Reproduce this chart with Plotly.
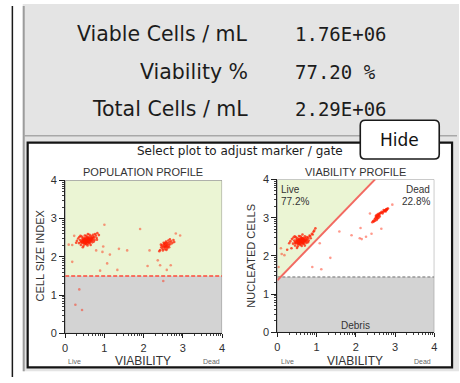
import math
import plotly.graph_objects as go

W, H = 460, 383

# ---- summary values ----
stat_labels = ["Viable Cells / mL", "Viability %", "Total Cells / mL"]
stat_values = ["1.76E+06", "77.20 %", "2.29E+06"]

live_pct = "77.2%"
dead_pct = "22.8%"

axis_ticks = [0, 1, 2, 3, 4]
axis_ticktext = ["0", "1", "2", "3", "4"]

# gates
size_gate = 1.5            # cell size index threshold (population profile)
debris_gate = 1.45         # nucleated cells threshold (viability profile)
live_line_start = [0.0, 1.36]
live_line_end = [2.49, 4.0]

# ---- population profile events (viability, cell size index) ----
pop_live_x = [0.45, 0.48, 0.50, 0.52, 0.55, 0.57, 0.53, 0.60, 0.62, 0.58, 0.64, 0.66, 0.49, 0.46, 0.43,
              0.51, 0.56, 0.61, 0.68, 0.70, 0.59, 0.54, 0.47, 0.41, 0.44, 0.63, 0.67, 0.72, 0.65, 0.58,
              0.52, 0.50, 0.56, 0.60, 0.48, 0.62, 0.55, 0.53, 0.57, 0.59, 0.66, 0.44, 0.40, 0.38, 0.70,
              0.74, 0.63, 0.51, 0.46, 0.54, 0.35, 0.33, 0.36, 0.40, 0.47, 0.57, 0.69, 0.75, 0.78, 0.76,
              0.71, 0.62, 0.50, 0.42, 0.30, 0.80, 0.82, 0.86, 0.45, 0.65, 0.73, 0.39, 0.58, 0.81, 0.28,
              0.54, 0.57, 0.61, 0.49, 0.52, 0.64, 0.59, 0.55, 0.47, 0.68]
pop_live_y = [2.40, 2.42, 2.38, 2.44, 2.41, 2.46, 2.36, 2.43, 2.48, 2.39, 2.45, 2.50, 2.46, 2.44, 2.37,
              2.49, 2.52, 2.51, 2.47, 2.53, 2.35, 2.33, 2.35, 2.41, 2.47, 2.40, 2.42, 2.49, 2.55, 2.50,
              2.40, 2.45, 2.44, 2.38, 2.37, 2.45, 2.48, 2.43, 2.40, 2.47, 2.44, 2.43, 2.38, 2.44, 2.45,
              2.52, 2.36, 2.34, 2.50, 2.55, 2.36, 2.48, 2.52, 2.31, 2.29, 2.30, 2.38, 2.44, 2.56, 2.60,
              2.58, 2.58, 2.56, 2.53, 2.42, 2.50, 2.62, 2.57, 2.25, 2.31, 2.40, 2.55, 2.60, 2.45, 2.37,
              2.39, 2.43, 2.46, 2.41, 2.47, 2.42, 2.44, 2.38, 2.40, 2.50]

pop_dead_x = [2.50, 2.53, 2.56, 2.58, 2.60, 2.62, 2.55, 2.52, 2.59, 2.64, 2.66, 2.48, 2.45, 2.54, 2.61,
              2.57, 2.68, 2.70, 2.51, 2.47, 2.63, 2.42, 2.58, 2.73, 2.76, 2.67, 2.44, 2.56, 2.60, 2.53,
              2.78, 2.40, 2.49, 2.65, 2.55]
pop_dead_y = [2.27, 2.30, 2.33, 2.28, 2.31, 2.35, 2.25, 2.34, 2.37, 2.30, 2.38, 2.22, 2.25, 2.20, 2.26,
              2.40, 2.33, 2.41, 2.37, 2.30, 2.43, 2.18, 2.18, 2.36, 2.44, 2.46, 2.32, 2.28, 2.22, 2.26,
              2.39, 2.15, 2.17, 2.25, 2.36]

pop_other_x = [1.00, 1.91, 0.23, 0.79, 0.95, 1.14, 1.37, 1.58, 1.07, 0.18, 0.89, 1.33, 2.10, 2.15, 2.36,
               2.59, 2.69, 2.93, 2.82, 2.50, 0.36, 0.26, 0.43, 0.18, 0.09, 0.97, 2.42]
pop_other_y = [2.84, 2.73, 2.55, 2.17, 2.13, 2.06, 2.21, 2.17, 1.83, 1.87, 1.64, 1.66, 1.76, 2.17, 1.91,
               1.66, 1.78, 2.56, 2.61, 1.37, 1.15, 0.75, 0.61, 2.31, 2.32, 2.27, 1.78]

# ---- viability profile events (viability, nucleated cells) ----
via_live_x = [0.50, 0.53, 0.55, 0.57, 0.60, 0.62, 0.58, 0.65, 0.67, 0.63, 0.69, 0.71, 0.54, 0.51, 0.48,
              0.56, 0.61, 0.66, 0.73, 0.75, 0.64, 0.59, 0.52, 0.46, 0.49, 0.68, 0.72, 0.77, 0.70, 0.63,
              0.57, 0.55, 0.61, 0.65, 0.53, 0.67, 0.60, 0.58, 0.62, 0.64, 0.71, 0.49, 0.45, 0.43, 0.75,
              0.79, 0.68, 0.56, 0.51, 0.59, 0.40, 0.37, 0.41, 0.45, 0.52, 0.62, 0.74, 0.80, 0.84, 0.88,
              0.92, 0.97, 0.55, 0.47, 0.33, 0.85, 0.90, 0.94, 0.50, 0.70, 0.78, 0.44, 0.64, 0.82, 0.30,
              0.25, 0.36, 0.59, 0.62, 0.66, 0.54, 0.57, 0.69, 0.64, 0.60]
via_live_y = [2.36, 2.38, 2.34, 2.40, 2.37, 2.42, 2.32, 2.39, 2.44, 2.35, 2.41, 2.46, 2.42, 2.40, 2.33,
              2.45, 2.48, 2.47, 2.43, 2.49, 2.31, 2.29, 2.31, 2.37, 2.43, 2.36, 2.38, 2.45, 2.51, 2.46,
              2.36, 2.41, 2.40, 2.34, 2.33, 2.41, 2.44, 2.39, 2.36, 2.43, 2.40, 2.39, 2.34, 2.40, 2.41,
              2.48, 2.32, 2.30, 2.46, 2.51, 2.32, 2.44, 2.48, 2.27, 2.25, 2.26, 2.34, 2.40, 2.52, 2.58,
              2.63, 2.72, 2.52, 2.49, 2.38, 2.46, 2.56, 2.66, 2.21, 2.27, 2.36, 2.51, 2.56, 2.53, 2.33,
              2.16, 2.20, 2.38, 2.40, 2.42, 2.37, 2.43, 2.39, 2.45, 2.35]

via_dead_x = [2.50, 2.52, 2.54, 2.55, 2.57, 2.53, 2.56, 2.59, 2.51, 2.48, 2.58, 2.60, 2.62, 2.49, 2.46,
              2.64, 2.66, 2.69, 2.72, 2.75, 2.77, 2.79, 2.80, 2.76, 2.74, 2.78, 2.82, 2.44, 2.42, 2.55,
              2.61, 2.68, 2.71, 2.53, 2.58]
via_dead_y = [2.98, 3.01, 3.03, 2.97, 3.05, 2.94, 3.08, 3.06, 3.04, 2.96, 3.10, 3.09, 3.12, 2.92, 2.90,
              3.13, 3.15, 3.14, 3.17, 3.19, 3.21, 3.20, 3.23, 3.16, 3.18, 3.22, 3.24, 2.91, 2.88, 3.00,
              3.03, 3.11, 3.20, 3.07, 3.00]

via_other_x = [2.36, 1.58, 1.89, 2.12, 2.15, 2.26, 2.65, 1.08, 1.35, 0.89, 1.12, 0.18, 0.03, 0.09, 0.11,
               2.40, 2.93, 2.10]
via_other_y = [3.11, 2.64, 2.54, 2.73, 2.44, 2.50, 2.71, 2.33, 1.95, 1.71, 1.65, 2.02, 1.71, 2.20, 2.05,
               2.58, 3.34, 2.46]

# ---- colours and fonts ----
EVENT = "#ff1e00"
GREEN = "#ebf5d4"
GREY_FILL = "#d3d3d3"
PANEL = "#e4e4e4"
TXT = "#1e1e1e"
PLOT_FONT = "Liberation Sans"
UI_FONT = "DejaVu Sans"
MONO = "DejaVu Sans Mono"


def fx(px):
    return px / W


def fy(py):
    return 1 - py / H


fig = go.Figure()

def events(x, y, xa, ya, op):
    fig.add_trace(go.Scatter(
        x=x, y=y, mode="markers", xaxis=xa, yaxis=ya, hoverinfo="skip",
        marker=dict(color=EVENT, size=2.6, opacity=op, line=dict(width=0)),
        showlegend=False,
    ))

events(pop_other_x, pop_other_y, "x", "y", 0.45)
events(pop_live_x, pop_live_y, "x", "y", 0.75)
events(pop_dead_x, pop_dead_y, "x", "y", 0.75)
events(via_other_x, via_other_y, "x2", "y2", 0.45)
events(via_live_x, via_live_y, "x2", "y2", 0.75)
events(via_dead_x, via_dead_y, "x2", "y2", 0.75)

minor_vals = [d + math.log10(k) for d in range(4) for k in range(2, 10)]

def axis_style(domain, anchor):
    return dict(
        domain=domain, anchor=anchor, range=[0, 4], fixedrange=True,
        showgrid=False, zeroline=False,
        showline=True, linecolor="#202020", linewidth=1,
        ticks="outside", ticklen=4, tickwidth=1, tickcolor="#202020",
        tickmode="array", tickvals=axis_ticks, ticktext=axis_ticktext,
        tickfont=dict(family=PLOT_FONT, size=11, color="#303030"),
        minor=dict(tickmode="array", tickvals=minor_vals, ticks="outside",
                   ticklen=2, tickwidth=1, tickcolor="#404040"),
    )

L_X0, L_X1, L_Y0, L_Y1 = 63, 222, 338, 180
R_X0, R_X1, R_Y0, R_Y1 = 278, 437, 337, 179

fig.update_layout(
    width=W, height=H, margin=dict(l=0, r=0, t=0, b=0),
    paper_bgcolor="white", plot_bgcolor="rgba(0,0,0,0)",
    xaxis=axis_style([fx(L_X0), fx(L_X1)], "y"),
    yaxis=axis_style([fy(L_Y0), fy(L_Y1)], "x"),
    xaxis2=axis_style([fx(R_X0), fx(R_X1)], "y2"),
    yaxis2=axis_style([fy(R_Y0), fy(R_Y1)], "x2"),
)
fig.update_yaxes(ticklen=5)

shapes = []

def paper_rect(x0, y0, x1, y1, **kw):
    shapes.append(dict(type="rect", xref="paper", yref="paper",
                       x0=fx(x0), x1=fx(x1), y0=fy(y1), y1=fy(y0), layer="below", **kw))

def paper_line(x0, y0, x1, y1, color, width):
    shapes.append(dict(type="line", xref="paper", yref="paper",
                       x0=fx(x0), x1=fx(x1), y0=fy(y0), y1=fy(y1), layer="below",
                       line=dict(color=color, width=width)))

# window chrome
paper_line(9.5, 0, 9.5, H, "#1a1a1a", 1.5)
paper_rect(20, -2, W + 2, 377, fillcolor=PANEL, line=dict(width=0))
paper_line(21, 0, 21, 377, "#9c9c9c", 2)
paper_line(21, 134, W, 134, "#a8a8a8", 1.5)
paper_rect(25, 141, 455, 373, fillcolor="white", line=dict(color="#141414", width=2.2))

# Hide button (rounded)
bx0, by0, bx1, by1, r = 362, 118, 442, 158, 5
def P(px, py):
    return f"{fx(px):.5f},{fy(py):.5f}"
hide_path = (f"M {P(bx0 + r, by0)} L {P(bx1 - r, by0)} Q {P(bx1, by0)} {P(bx1, by0 + r)} "
             f"L {P(bx1, by1 - r)} Q {P(bx1, by1)} {P(bx1 - r, by1)} "
             f"L {P(bx0 + r, by1)} Q {P(bx0, by1)} {P(bx0, by1 - r)} "
             f"L {P(bx0, by0 + r)} Q {P(bx0, by0)} {P(bx0 + r, by0)} Z")
shapes.append(dict(type="path", xref="paper", yref="paper", path=hide_path, layer="below",
                   fillcolor="white", line=dict(color="#1a1a1a", width=1.6)))

# population profile gates
shapes.append(dict(type="rect", xref="x", yref="y", x0=0, x1=4, y0=size_gate, y1=4,
                   fillcolor=GREEN, line=dict(width=0), layer="below"))
shapes.append(dict(type="rect", xref="x", yref="y", x0=0, x1=4, y0=0, y1=size_gate,
                   fillcolor=GREY_FILL, line=dict(width=0), layer="below"))
shapes.append(dict(type="rect", xref="x", yref="y", x0=0, x1=4, y0=0, y1=4,
                   fillcolor="rgba(0,0,0,0)", line=dict(color="#8a8a8a", width=1), layer="below"))
shapes.append(dict(type="line", xref="x", yref="y", x0=0, x1=4, y0=size_gate, y1=size_gate,
                   line=dict(color="#ff4a3a", width=1.6, dash="4px,2px"), layer="above"))

# viability profile gates
shapes.append(dict(type="rect", xref="x2", yref="y2", x0=0, x1=4, y0=0, y1=debris_gate,
                   fillcolor=GREY_FILL, line=dict(width=0), layer="below"))
shapes.append(dict(type="path", xref="x2", yref="y2",
                   path=(f"M {live_line_start[0]},{live_line_start[1]} L 0,4 "
                         f"L {live_line_end[0]},{live_line_end[1]} Z"),
                   fillcolor=GREEN, line=dict(width=0), layer="below"))
shapes.append(dict(type="rect", xref="x2", yref="y2", x0=0, x1=4, y0=0, y1=4,
                   fillcolor="rgba(0,0,0,0)", line=dict(color="#8a8a8a", width=1), layer="below"))
shapes.append(dict(type="line", xref="x2", yref="y2", x0=0, x1=4, y0=debris_gate, y1=debris_gate,
                   line=dict(color="#707070", width=1, dash="3px,2px"), layer="above"))
shapes.append(dict(type="line", xref="x2", yref="y2",
                   x0=live_line_start[0], y0=live_line_start[1],
                   x1=live_line_end[0], y1=live_line_end[1],
                   line=dict(color="#f26a62", width=2), layer="above"))

fig.update_layout(shapes=shapes)

ann = []

def text(t, px, py, size, family=PLOT_FONT, color=TXT, xanchor="center", angle=0):
    ann.append(dict(text=t, x=fx(px), y=fy(py), xref="paper", yref="paper",
                    xanchor=xanchor, yanchor="middle", showarrow=False, textangle=angle,
                    font=dict(family=family, size=size, color=color)))

stat_rows = [29, 68, 106]
for lab, val, row in zip(stat_labels, stat_values, stat_rows):
    text(lab, 250, row, 20.5, UI_FONT, "#1c1c1c", "right")
    text(val, 294, row, 19, MONO, "#1c1c1c", "left")

text("Select plot to adjust marker / gate", 240, 150, 12, UI_FONT, "#1c1c1c")
text("Hide", 402, 138, 17, UI_FONT, "#111111")

text("POPULATION PROFILE", 142, 171, 11, color="#333333")
text("VIABILITY PROFILE", 357, 171, 11, color="#333333")
text("CELL SIZE INDEX", 37, 258, 11, color="#333333", angle=-90)
text("NUCLEATED CELLS", 251, 258, 11, color="#333333", angle=-90)
text("VIABILITY", 142, 366, 12, color="#333333")
text("VIABILITY", 357, 366, 12, color="#333333")
text("Live", 72, 367, 7, color="#666666")
text("Dead", 211, 367, 7, color="#666666")
text("Live", 288, 367, 7, color="#666666")
text("Dead", 425, 367, 7, color="#666666")

text("Live", 280, 189, 10, color="#333333", xanchor="left")
text(live_pct, 280, 202, 10, color="#333333", xanchor="left")
text("Dead", 435, 189, 10, color="#333333", xanchor="right")
text(dead_pct, 435, 202, 10, color="#333333", xanchor="right")
text("Debris", 357, 330, 10, color="#333333")

fig.update_layout(annotations=ann)

fig.write_html("out.html")
